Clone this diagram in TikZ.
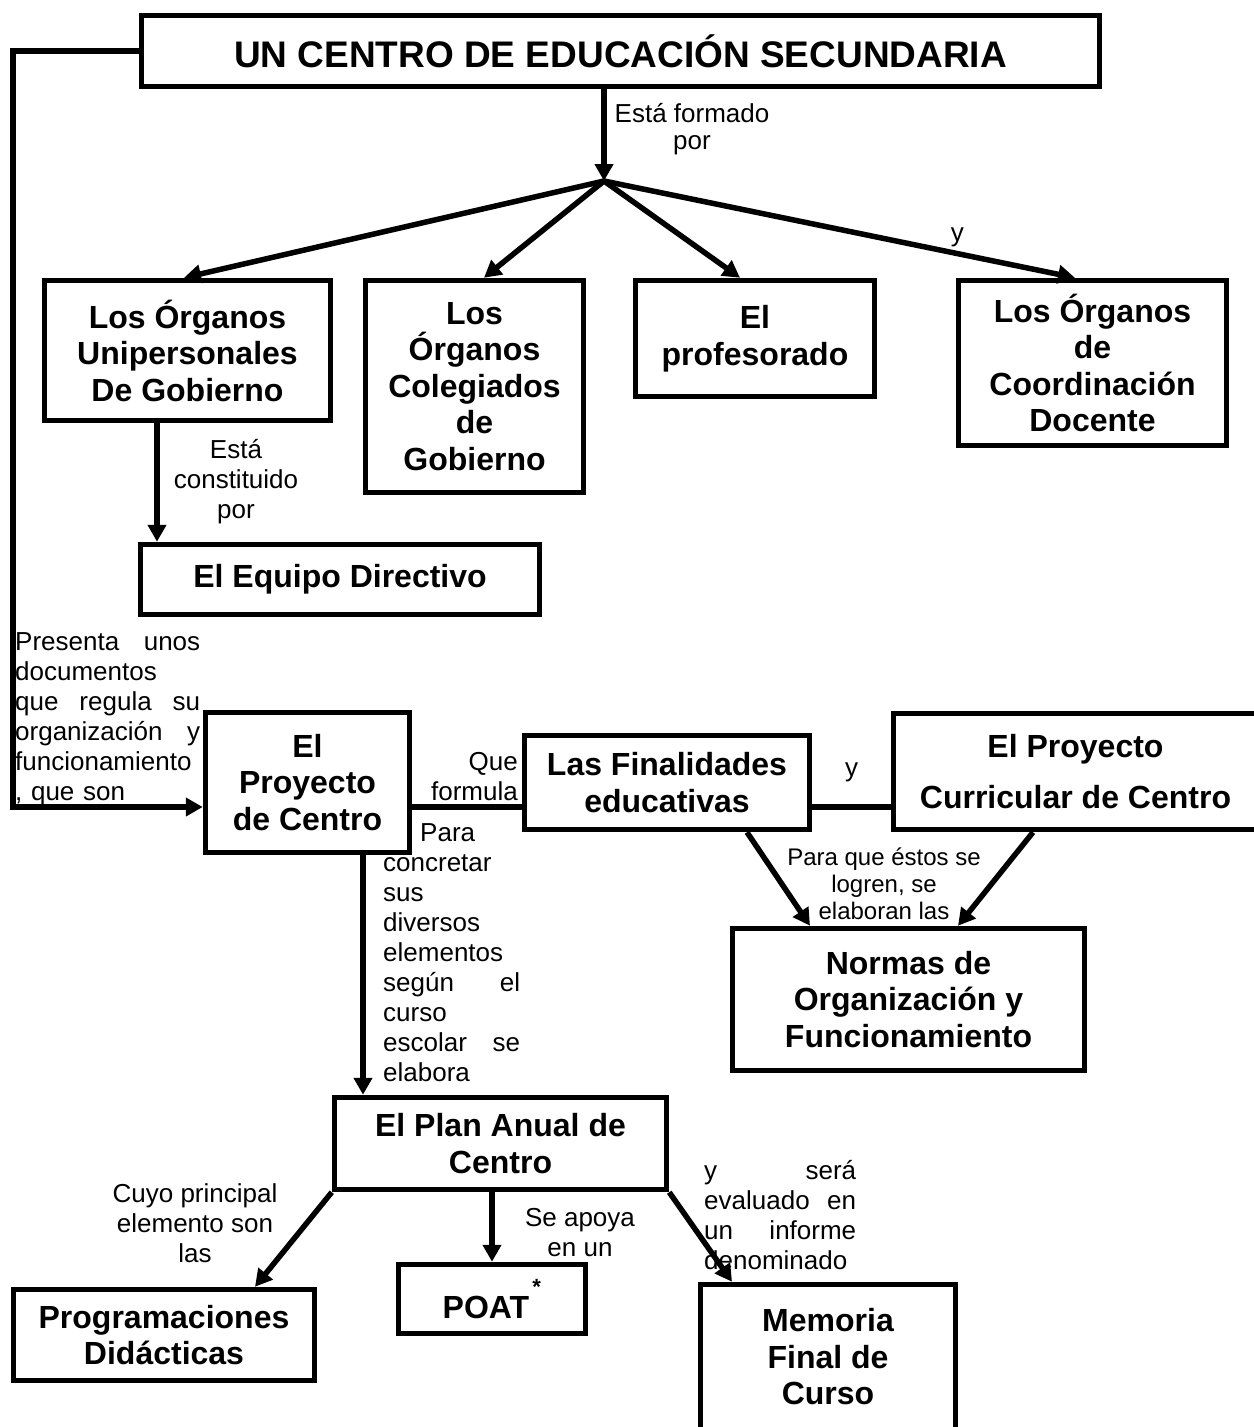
\documentclass[tikz,border=0pt]{standalone}
\usepackage{fontspec}
\setmainfont{Liberation Sans}
\usetikzlibrary{arrows.meta, positioning}
\tikzset{%
	box/.style={draw, line width=5.5pt, align=center, inner sep=0pt,%
		font=\fontsize{32}{36.5}\selectfont\bfseries},
	txt/.style={align=center, inner sep=0pt, font=\fontsize{26}{30}\selectfont},
	para/.style={align=left, inner sep=0pt, anchor=north west,%
		font=\fontsize{26}{30}\selectfont},
	connector/.style={line width=5.5pt},
	sel/.style={line width=5.5pt, -{Triangle[length=17pt,width=18pt]}}
}
\begin{document}
\begin{tikzpicture}[x=1pt, y=-1pt]
			\useasboundingbox (0,0) rectangle (1253,1427);
			\node[box, minimum width=958pt, minimum height=71pt, font=\fontsize{37}{42}\selectfont\bfseries] (centro) at (620.5,51) {UN CENTRO DE EDUCACIÓN SECUNDARIA};
			\coordinate (fork) at (604,181);
			\node[box, minimum width=286pt, minimum height=140pt] (org-uni) at (187.5,350.5) {Los Órganos\\Unipersonales\\De Gobierno};
			\node[box, minimum width=218pt, minimum height=212pt] (org-col) at (474.5,386.5) {Los\\Órganos\\Colegiados\\de\\Gobierno};
			\node[box, minimum width=239pt, minimum height=116pt] (prof) at (755,338.5) {El\\profesorado};
			\node[box, minimum width=268pt, minimum height=165pt] (org-coord) at (1092.5,363) {Los Órganos\\de\\Coordinación\\Docente};
			\node[box, minimum width=399pt, minimum height=70pt] (eq-dir) at (340,579.5) {El Equipo Directivo};
			\node[box, minimum width=204pt, minimum height=140pt] (proy) at (307.5,782.5) {El\\Proyecto\\de Centro};
			\node[box, minimum width=285pt, minimum height=94pt] (fin) at (667,782.5) {Las Finalidades\\educativas};
			\node[box, minimum width=364pt, minimum height=116pt] (pcc) at (1075.5,771.5) {El Proyecto\\[15pt]Curricular de Centro};
			\node[box, minimum width=352pt, minimum height=142pt] (nof) at (908.5,999.5) {Normas de\\Organización y\\Funcionamiento};
			\node[box, minimum width=332pt, minimum height=92pt] (pac) at (500.5,1143.5) {El Plan Anual de\\Centro};
			\node[box, minimum width=301pt, minimum height=91pt] (prog) at (164,1335) {Programaciones\\Didácticas};
			\node[box, minimum width=187pt, minimum height=69pt] (poat) at (492,1299) {\hspace*{-12pt}POAT\rlap{\hspace{3pt}\raisebox{24pt}{\fontsize{22}{22}\selectfont *}}};
			\node[box, minimum width=255pt, minimum height=145pt] (mem) at (828,1357) {Memoria\\Final de\\Curso};
			\coordinate (bend) at (13,807);

			% textos de los conectores
			\node[txt, font=\fontsize{26}{27}\selectfont] (l-formado) at (692,129) {Está formado\\por};
			\node[txt] (l-const) at (236,482) {Está\\constituido\\por};
			\node[para, text width=185pt] (l-presenta) at (15,632) {Presenta\hfill unos\\documentos\\que\hfill regula\hfill su\\organización\hfill y\\funcionamiento\\, que son};
			\node[txt, align=right, anchor=north east] (l-formula) at (518,752) {Que\\formula};
			\node[txt, font=\fontsize{24}{27}\selectfont] (l-logren) at (884,884) {Para que éstos se\\logren, se\\elaboran las};
			\node[para, text width=137pt] (l-concretar) at (383,823) {\hspace*{37pt}Para\\concretar\\sus\\diversos\\elementos\\según\hfill el\\curso\\escolar\hfill se\\elabora};
			\node[txt] (l-cuyo) at (195,1223) {Cuyo principal\\elemento son\\las};
			\node[txt] (l-apoya) at (580,1233) {Se apoya\\en un};
			\node[para, text width=152pt] (l-evaluado) at (704,1160) {y\hfill será\\evaluado\hfill en\\un\hfill informe\\denominado};

			\draw[sel] (centro.south -| fork) -- (fork);
			\draw[sel] (fork) -- ([xshift=-3.5pt]org-uni.north);
			\draw[sel] (fork) -- ([xshift=9.5pt]org-col.north);
			\draw[sel] (fork) -- ([xshift=-15pt]prof.north);
			\draw[sel] (fork) to node[pos=0.75, above=4pt, txt]{y} ([xshift=-17.5pt]org-coord.north);
			\draw[sel] ([xshift=-30.5pt]org-uni.south) -- ([xshift=-30.5pt]org-uni.south |- eq-dir.north);
			\draw[sel] (centro.west) -| (bend) -- (bend -| proy.west);
			\draw[connector] (bend -| proy.east) -- (bend -| fin.west);
			\draw[connector] (bend -| fin.east) to node[midway, above=22pt, txt]{y} (bend -| pcc.west);
			\draw[sel] ([xshift=80pt]fin.south) -- ([xshift=-98.5pt]nof.north);
			\draw[sel] ([xshift=-42.5pt]pcc.south) -- ([xshift=49.5pt]nof.north);
			\draw[sel] ([xshift=55.5pt]proy.south) -- ([xshift=55.5pt]proy.south |- pac.north);
			\draw[sel] (pac.south west) -- ([xshift=91pt]prog.north);
			\draw[sel] ([xshift=-8.5pt]pac.south) -- ([xshift=-8.5pt]pac.south |- poat.north);
			\draw[sel] (pac.south east) -- ([xshift=-96pt]mem.north);
		\end{tikzpicture}
\end{document}
